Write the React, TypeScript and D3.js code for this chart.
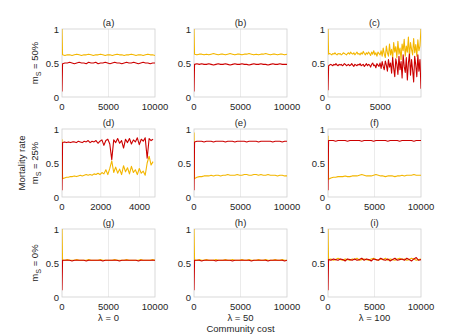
import React from "react";
import * as d3 from "d3";

// ---- data ----
const panelLabels = ["(a)", "(b)", "(c)", "(d)", "(e)", "(f)", "(g)", "(h)", "(i)"];
const xMaxes = [10000, 10000, 8900, 4800, 10000, 10000, 10000, 10000, 10000];
// x of the first sample after the start (transient) and of the last sample
const firstSampleX = [60, 60, 60, 30, 60, 60, 60, 60, 60];
const lastSampleX = [10000, 10000, 8900, 4700, 10000, 10000, 10000, 10000, 10000];
const xTickSets = [
  [0, 5000, 10000], [0, 5000, 10000], [0, 5000],
  [0, 2000, 4000], [0, 5000, 10000], [0, 5000, 10000],
  [0, 5000, 10000], [0, 5000, 10000], [0, 5000, 10000],
];
const yTicks = [0, 0.5, 1];
const rowLabels = ["m|S| = 50%", "m|S| = 25%", "m|S| = 0%"];
const colLabels = ["λ = 0", "λ = 50", "λ = 100"];

const aYellow = [1.0, 0.62,0.61,0.62,0.62,0.61,0.62,0.63,0.62,0.61,0.62,0.62,0.63,0.62,0.61,0.62,0.62,0.63,0.62,0.61,0.62,0.62,0.61,0.62,0.63,0.62,0.62,0.61,0.62,0.62,0.63,0.62,0.61,0.62,0.62,0.61,0.62,0.63,0.62,0.62,0.61];
const aRed = [0.08, 0.49,0.50,0.50,0.51,0.50,0.49,0.50,0.51,0.50,0.50,0.49,0.51,0.50,0.50,0.51,0.49,0.50,0.50,0.51,0.50,0.49,0.50,0.51,0.50,0.50,0.49,0.50,0.51,0.50,0.50,0.51,0.50,0.49,0.50,0.51,0.50,0.50,0.49,0.50,0.50];

const bYellow = [1.0, 0.63,0.62,0.63,0.63,0.62,0.63,0.62,0.63,0.64,0.63,0.62,0.63,0.63,0.62,0.63,0.64,0.63,0.62,0.63,0.63,0.62,0.63,0.63,0.64,0.63,0.62,0.63,0.62,0.63,0.63,0.64,0.63,0.62,0.63,0.63,0.62,0.63,0.63,0.62,0.63];
const bRed = [0.08, 0.48,0.49,0.48,0.49,0.48,0.48,0.49,0.48,0.47,0.48,0.49,0.48,0.48,0.49,0.48,0.47,0.48,0.49,0.48,0.48,0.49,0.48,0.48,0.47,0.48,0.49,0.48,0.48,0.49,0.48,0.48,0.47,0.48,0.49,0.48,0.48,0.49,0.48,0.48,0.48];

const cYellow = [1.0,
  0.63,0.64,0.63,0.62,0.64,0.63,0.65,0.63,0.62,0.64,0.63,0.64,0.62,0.63,0.65,0.64,0.63,0.62,0.64,0.65,0.63,0.66,0.64,0.63,0.65,0.62,0.64,0.66,0.63,0.64,0.62,0.65,0.63,0.67,0.64,0.62,0.65,0.63,0.66,0.64,0.61,0.66,0.63,0.68,0.62,0.65,0.60,0.66,0.64,0.62,
  0.68,0.60,0.72,0.63,0.58,0.75,0.65,0.60,0.78,0.62,0.70,0.57,0.80,0.66,0.74,0.58,0.82,0.63,0.72,0.55,0.78,0.68,0.85,0.60,0.75,0.66,0.88,0.58,0.80,0.70,0.62,0.86,0.65,0.77,0.60,0.84,0.68,0.75,1.0];
const cRed = [0.1,
  0.46,0.47,0.48,0.47,0.46,0.48,0.47,0.49,0.47,0.46,0.48,0.47,0.48,0.46,0.47,0.49,0.48,0.46,0.47,0.48,0.46,0.47,0.49,0.47,0.45,0.48,0.47,0.46,0.48,0.47,0.49,0.46,0.47,0.48,0.45,0.47,0.49,0.46,0.48,0.47,0.44,0.48,0.50,0.46,0.47,0.43,0.49,0.47,0.45,0.50,
  0.42,0.52,0.45,0.40,0.53,0.47,0.38,0.55,0.44,0.50,0.35,0.58,0.42,0.30,0.56,0.48,0.33,0.60,0.40,0.52,0.28,0.62,0.45,0.36,0.58,0.25,0.50,0.63,0.32,0.55,0.40,0.22,0.60,0.47,0.30,0.62,0.38,0.55,0.12];

const dYellow = [0.85,
  0.27,0.28,0.29,0.29,0.30,0.30,0.31,0.30,0.31,0.32,0.31,0.32,0.33,0.32,0.33,0.32,0.34,0.33,0.35,0.33,0.36,0.34,0.40,0.33,0.42,0.53,0.36,0.44,0.35,0.41,0.33,0.46,0.37,0.43,0.34,0.45,0.36,0.40,0.33,0.42,0.35,0.38,0.32,0.50,0.60,0.47,0.52];
const dRed = [0.1,
  0.80,0.81,0.80,0.81,0.80,0.81,0.81,0.80,0.82,0.81,0.80,0.82,0.81,0.83,0.80,0.82,0.81,0.83,0.79,0.82,0.84,0.76,0.83,0.85,0.78,0.55,0.84,0.80,0.86,0.79,0.83,0.72,0.85,0.80,0.86,0.78,0.84,0.81,0.87,0.77,0.85,0.82,0.87,0.57,0.86,0.83,0.85];

const eYellow = [0.95, 0.27,0.29,0.30,0.30,0.31,0.31,0.31,0.32,0.31,0.32,0.32,0.31,0.32,0.32,0.33,0.32,0.32,0.32,0.33,0.32,0.32,0.33,0.33,0.32,0.32,0.33,0.33,0.32,0.33,0.32,0.32,0.33,0.32,0.32,0.32,0.31,0.32,0.32,0.31,0.31];
const eRed = [0.1, 0.81,0.82,0.82,0.82,0.81,0.82,0.82,0.82,0.81,0.82,0.82,0.82,0.82,0.81,0.82,0.82,0.82,0.81,0.82,0.82,0.82,0.82,0.81,0.82,0.82,0.82,0.82,0.81,0.82,0.82,0.82,0.82,0.82,0.81,0.82,0.82,0.82,0.81,0.82,0.82];

const fYellow = [0.9, 0.26,0.28,0.29,0.29,0.30,0.30,0.30,0.31,0.30,0.30,0.31,0.31,0.31,0.32,0.33,0.32,0.31,0.31,0.31,0.32,0.33,0.32,0.31,0.31,0.30,0.31,0.31,0.31,0.30,0.31,0.31,0.32,0.31,0.32,0.32,0.32,0.33,0.32,0.32,0.32];
const fRed = [0.1, 0.83,0.83,0.83,0.82,0.83,0.83,0.83,0.83,0.82,0.83,0.83,0.83,0.83,0.83,0.82,0.83,0.83,0.83,0.83,0.82,0.83,0.83,0.83,0.83,0.83,0.82,0.83,0.83,0.83,0.83,0.82,0.83,0.83,0.83,0.83,0.83,0.82,0.83,0.83,0.83];

const gYellow = [1.0, 0.54,0.54,0.55,0.54,0.54,0.54,0.55,0.54,0.54,0.54,0.54,0.55,0.54,0.54,0.54,0.54,0.55,0.54,0.54,0.54,0.54,0.54,0.55,0.54,0.54,0.54,0.54,0.55,0.54,0.54,0.54,0.54,0.54,0.55,0.54,0.54,0.54,0.54,0.55,0.54];
const gRed = [0.1, 0.54,0.54,0.54,0.54,0.53,0.54,0.54,0.54,0.54,0.54,0.53,0.54,0.54,0.54,0.54,0.54,0.54,0.53,0.54,0.54,0.54,0.54,0.54,0.54,0.53,0.54,0.54,0.54,0.54,0.54,0.54,0.54,0.53,0.54,0.54,0.54,0.54,0.54,0.54,0.54];

const hYellow = [1.0, 0.54,0.54,0.55,0.54,0.54,0.55,0.54,0.54,0.54,0.55,0.54,0.54,0.54,0.55,0.54,0.54,0.55,0.54,0.54,0.54,0.55,0.54,0.54,0.55,0.54,0.54,0.54,0.55,0.54,0.54,0.55,0.54,0.54,0.54,0.55,0.54,0.54,0.55,0.54,0.54];
const hRed = [0.1, 0.54,0.54,0.54,0.53,0.54,0.54,0.54,0.54,0.54,0.53,0.54,0.54,0.54,0.54,0.54,0.54,0.53,0.54,0.54,0.54,0.54,0.54,0.54,0.54,0.53,0.54,0.54,0.54,0.54,0.54,0.54,0.53,0.54,0.54,0.54,0.54,0.54,0.54,0.53,0.54];

const iYellow = [1.0, 0.55,0.56,0.54,0.55,0.57,0.55,0.54,0.56,0.55,0.54,0.56,0.55,0.57,0.54,0.55,0.56,0.55,0.54,0.56,0.57,0.55,0.54,0.56,0.55,0.57,0.54,0.56,0.55,0.54,0.56,0.57,0.55,0.56,0.54,0.55,0.57,0.56,0.54,0.55,0.56];
const iRed = [0.1, 0.55,0.54,0.56,0.55,0.54,0.56,0.55,0.53,0.56,0.55,0.54,0.56,0.54,0.55,0.57,0.54,0.56,0.55,0.53,0.56,0.55,0.54,0.57,0.55,0.54,0.56,0.53,0.55,0.57,0.54,0.55,0.56,0.54,0.57,0.55,0.53,0.56,0.58,0.54,0.55];

const yellowSeries = [aYellow, bYellow, cYellow, dYellow, eYellow, fYellow, gYellow, hYellow, iYellow];
const redSeries = [aRed, bRed, cRed, dRed, eRed, fRed, gRed, hRed, iRed];

// ---- layout ----
const WIDTH = 474;
const HEIGHT = 334;
const colLeft = [62, 194, 328];
const rowTop = [29, 129, 229];
const PW = 93;
const PH = 68;
const YELLOW = "#F3B600";
const RED = "#CC0000";
const FONT = "'Liberation Sans', Arial, sans-serif";
const TXT = "#262626";
const FS = 9.5;

function RowLabel({ text, x, y }: { text: string; x: number; y: number }) {
  const [pre, sub, post] = text.split("|");
  return (
    <text x={x} y={y} transform={`rotate(-90 ${x} ${y})`} textAnchor="middle" fontSize={FS} fill={TXT} fontFamily={FONT}>
      {pre}
      <tspan fontSize={FS * 0.75} dy={2.5}>{sub}</tspan>
      <tspan dy={-2.5}>{post}</tspan>
    </text>
  );
}

function Panel({ idx }: { idx: number }) {
  const r = Math.floor(idx / 3);
  const c = idx % 3;
  const left = colLeft[c];
  const top = rowTop[r];
  const x = d3.scaleLinear().domain([0, xMaxes[idx]]).range([left, left + PW]);
  const y = d3.scaleLinear().domain([0, 1]).range([top + PH, top]);
  const f0 = firstSampleX[idx];
  const sampleX = (i: number, n: number) =>
    i === 0 ? 0 : f0 + ((i - 1) * (lastSampleX[idx] - f0)) / (n - 2);
  const mk = (vals: number[]) =>
    d3
      .line<number>()
      .x((_, i) => x(sampleX(i, vals.length)))
      .y((v) => y(v))(vals) || "";
  const clipId = `clip-${idx}`;
  return (
    <g>
      <defs>
        <clipPath id={clipId}>
          <rect x={left} y={top - 0.5} width={PW} height={PH + 1} />
        </clipPath>
      </defs>
      {xTickSets[idx]
        .filter((t) => t > 0 && t < xMaxes[idx])
        .map((t) => (
          <line key={t} x1={x(t)} x2={x(t)} y1={top} y2={top + PH} stroke="#e6e6e6" strokeWidth={0.8} />
        ))}
      <rect x={left} y={top} width={PW} height={PH} fill="none" stroke="#d0d0d0" strokeWidth={0.8} />
      <g clipPath={`url(#${clipId})`}>
        <path d={mk(yellowSeries[idx])} fill="none" stroke={YELLOW} strokeWidth={1.1} strokeLinejoin="round" />
        <path d={mk(redSeries[idx])} fill="none" stroke={RED} strokeWidth={1.1} strokeLinejoin="round" />
      </g>
      {yTicks.map((t) => (
        <text key={t} x={left - 3} y={y(t) + 3.5} textAnchor="end" fontSize={FS} fill={TXT} fontFamily={FONT}>
          {String(t)}
        </text>
      ))}
      {xTickSets[idx].map((t) => (
        <text key={t} x={x(t)} y={top + PH + 13} textAnchor="middle" fontSize={FS} fill={TXT} fontFamily={FONT}>
          {String(t)}
        </text>
      ))}
      <text x={left + PW / 2} y={top - 3.5} textAnchor="middle" fontSize={FS} fill={TXT} fontFamily={FONT}>
        {panelLabels[idx]}
      </text>
    </g>
  );
}

export default function App() {
  return (
    <svg width={WIDTH} height={HEIGHT} style={{ position: "absolute", left: 0, top: 0, background: "#fff" }}>
      <rect x={0} y={0} width={WIDTH} height={HEIGHT} fill="#fff" />
      {panelLabels.map((_, i) => (
        <Panel key={i} idx={i} />
      ))}
      {rowLabels.map((t, r) => (
        <RowLabel key={r} text={t} x={38} y={rowTop[r] + PH / 2} />
      ))}
      <text x={25} y={rowTop[1] + PH / 2} transform={`rotate(-90 25 ${rowTop[1] + PH / 2})`} textAnchor="middle" fontSize={FS} fill={TXT} fontFamily={FONT}>
        Mortality rate
      </text>
      {colLabels.map((t, c) => (
        <text key={c} x={colLeft[c] + PW / 2} y={320.5} textAnchor="middle" fontSize={FS} fill={TXT} fontFamily={FONT}>
          {t}
        </text>
      ))}
      <text x={colLeft[1] + PW / 2} y={331.5} textAnchor="middle" fontSize={FS} fill={TXT} fontFamily={FONT}>
        Community cost
      </text>
    </svg>
  );
}
